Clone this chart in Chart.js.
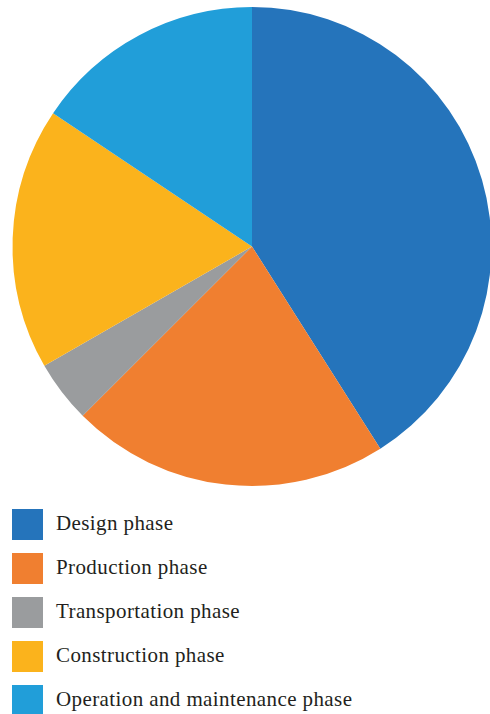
<!DOCTYPE html>
<html>
<head>
<meta charset="utf-8">
<script src="https://cdn.jsdelivr.net/npm/chart.js@4/dist/chart.umd.min.js"></script>
<style>
  html, body { margin: 0; padding: 0; background: #fff; overflow: hidden; width: 490px; height: 714px; }
  #wrap { position: absolute; left: 0; top: 0; width: 504px; height: 494px; }
  #legend { position: absolute; left: 12px; top: 509px; font-family: "Liberation Serif", "DejaVu Serif", serif; font-size: 21px; letter-spacing: 0.4px; color: #231f20; }
  .item { height: 44px; position: relative; }
  .box { position: absolute; left: 0; top: 0; width: 31px; height: 31px; }
  .txt { position: absolute; left: 44px; top: -1px; line-height: 31px; white-space: nowrap; }
</style>
</head>
<body>
<div id="wrap"><canvas id="pieChart"></canvas></div>
<div id="legend"></div>
<script>
// chart data
const labels = ["Design phase", "Production phase", "Transportation phase", "Construction phase", "Operation and maintenance phase"];
const values = [41.0, 21.5, 4.2, 17.7, 15.6];
const colors = ["#2574bb", "#f07f30", "#9a9c9e", "#fbb31c", "#219ed9"];

const ctx = document.getElementById("pieChart").getContext("2d");

const pieChart = new Chart(ctx, {
  type: "pie",
  data: {
    labels: labels,
    datasets: [
      {
        data: values,
        backgroundColor: colors,
        borderWidth: 0,
      },
    ],
  },
  options: {
    responsive: true,
    maintainAspectRatio: false,
    animation: false,
    layout: { padding: { top: 7, bottom: 8 } },
    plugins: {
      legend: { display: false },
      tooltip: { enabled: false },
    },
  },
});

// legend built from the same arrays
let output = "";
labels.forEach((e, i) => {
  output += '<div class="item"><div class="box" style="background:' + colors[i] + '"></div><div class="txt">' + e + "</div></div>";
});
document.getElementById("legend").innerHTML = output;
</script>
</body>
</html>
